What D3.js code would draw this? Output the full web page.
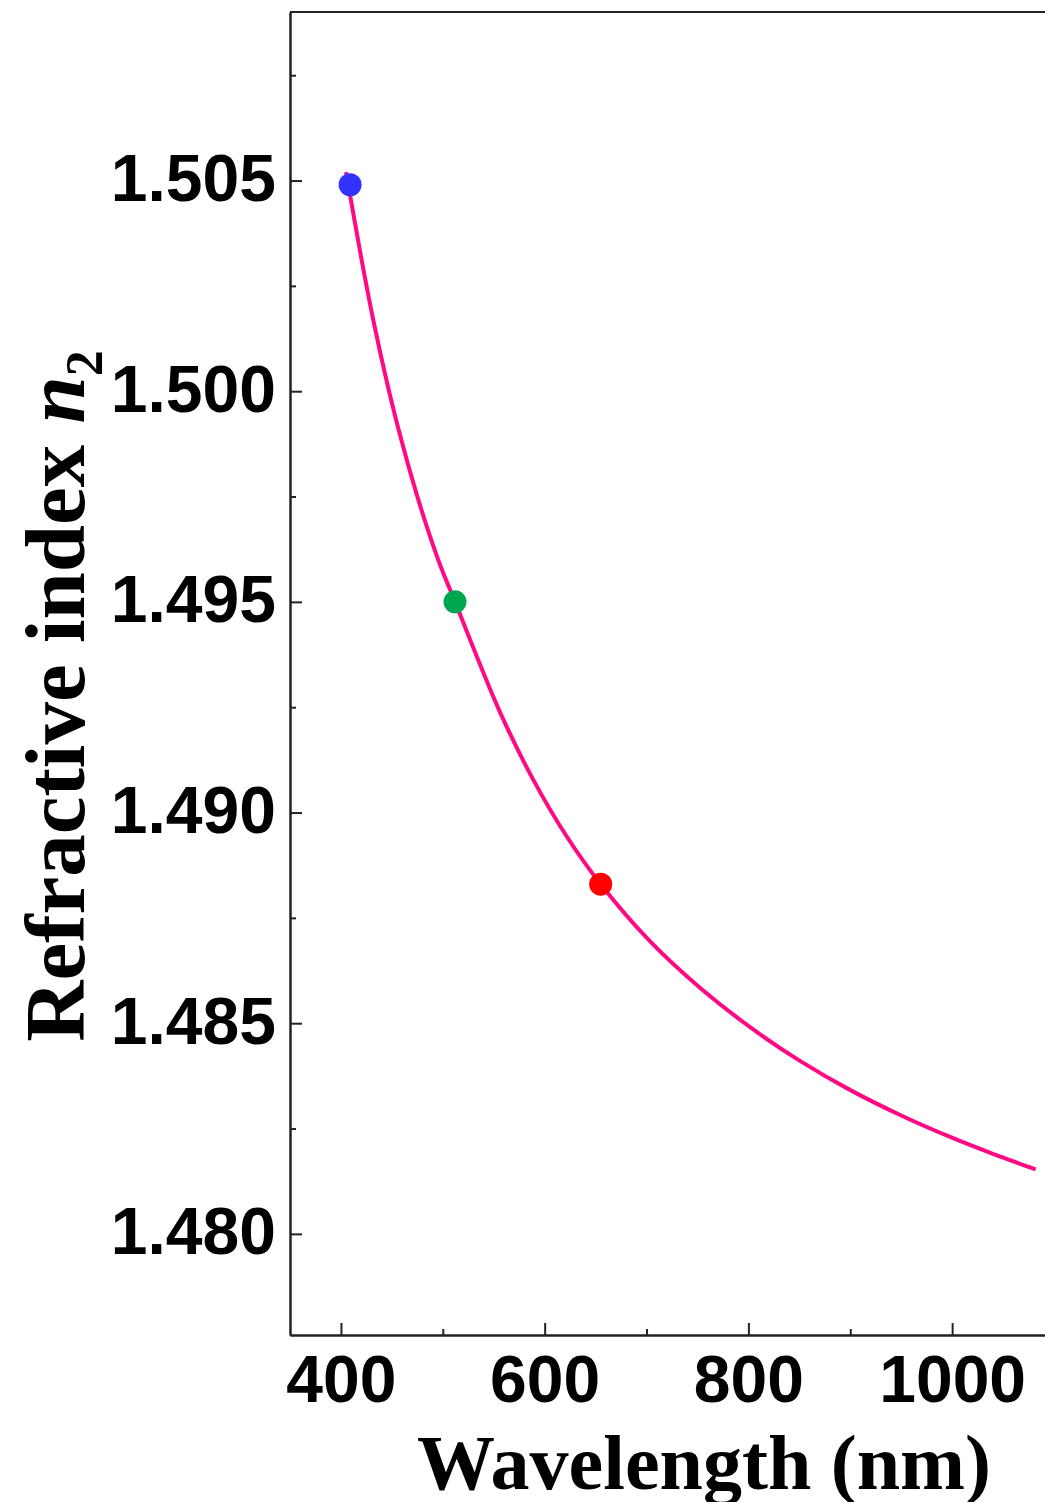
<!DOCTYPE html>
<html>
<head>
<meta charset="utf-8">
<script src="https://cdn.jsdelivr.net/npm/d3@7"></script>
<style>
  body { margin: 0; background: #fff; }
  .tick text { font-family: "Liberation Sans", Arial, sans-serif; font-weight: bold; font-size: 66px; fill: #000; }
  .axis path, .axis line { stroke: #222; stroke-width: 2; }
  .title { font-family: "Liberation Serif", "Times New Roman", serif; font-weight: bold; fill: #000; }
</style>
</head>
<body>
<div id="chart"></div>
<script>
// curve: wavelength (nm) and refractive index n2
var wavelength = [405, 420, 432, 445, 458, 474, 487, 497, 512, 556, 589, 622, 655, 704, 753, 802, 851, 901, 950, 998, 1040, 1082];
var index = [1.5052, 1.50316, 1.50166, 1.50023, 1.49896, 1.49758, 1.49659, 1.4959, 1.4950, 1.49239, 1.49077, 1.48942, 1.4883, 1.48693, 1.48583, 1.4849, 1.4841, 1.4834, 1.48281, 1.4823, 1.4819, 1.48153];

// the three marked laser lines
var dotWavelength = [409, 512, 655];
var dotIndex = [1.5049, 1.4950, 1.4883];
var dotColor = ["#3333ff", "#00a550", "#ff0000"];

var xTicks = [400, 600, 800, 1000];
var xMinor = [500, 700, 900];
var yTicks = [1.480, 1.485, 1.490, 1.495, 1.500, 1.505];
var yMinor = [1.4825, 1.4875, 1.4925, 1.4975, 1.5025, 1.5075];

var width = 1045, height = 1502;
var plotLeft = 290, plotRight = 1054, plotTop = 12, plotBottom = 1335;

var svg = d3.select("#chart").append("svg")
    .attr("width", width)
    .attr("height", height);

// set the ranges
var x = d3.scaleLinear().domain([350, 1100]).range([plotLeft, plotRight]);
var y = d3.scaleLinear().domain([1.4776, 1.509]).range([plotBottom, plotTop]);

// minor ticks first, inward
svg.append("g")
    .attr("class", "axis")
    .attr("transform", "translate(0," + plotBottom + ")")
    .call(d3.axisBottom(x).tickValues(xMinor).tickSize(-6).tickSizeOuter(0).tickFormat(""));
svg.append("g")
    .attr("class", "axis")
    .attr("transform", "translate(" + plotLeft + ",0)")
    .call(d3.axisLeft(y).tickValues(yMinor).tickSize(-6).tickSizeOuter(0).tickFormat(""));

// major ticks with labels
svg.append("g")
    .attr("class", "axis")
    .attr("transform", "translate(0," + plotBottom + ")")
    .call(d3.axisBottom(x).tickValues(xTicks).tickSize(-12).tickSizeOuter(0).tickPadding(20).tickFormat(d3.format("d")))
  .selectAll("text")
    .attr("dy", "0.71em");
svg.append("g")
    .attr("class", "axis")
    .attr("transform", "translate(" + plotLeft + ",0)")
    .call(d3.axisLeft(y).tickValues(yTicks).tickSize(-12).tickSizeOuter(0).tickPadding(14).tickFormat(d3.format(".3f")))
  .selectAll("text")
    .attr("dy", "0.3em");

// top frame line
svg.append("line")
    .attr("x1", plotLeft).attr("x2", plotRight)
    .attr("y1", plotTop).attr("y2", plotTop)
    .attr("stroke", "#222").attr("stroke-width", 2);

// the dispersion curve
var data = wavelength.map(function(d, i) { return {w: d, n: index[i]}; });
var line = d3.line()
    .x(function(d) { return x(d.w); })
    .y(function(d) { return y(d.n); })
    .curve(d3.curveCatmullRom.alpha(0.5));

svg.append("path")
    .datum(data)
    .attr("fill", "none")
    .attr("stroke", "#ff0a84")
    .attr("stroke-width", 4)
    .attr("d", line);

svg.selectAll(".dot")
    .data(dotWavelength)
  .enter().append("circle")
    .attr("class", "dot")
    .attr("cx", function(d) { return x(d); })
    .attr("cy", function(d, i) { return y(dotIndex[i]); })
    .attr("r", 11.5)
    .attr("fill", function(d, i) { return dotColor[i]; });

// axis titles
svg.append("text")
    .attr("class", "title")
    .attr("x", 704)
    .attr("y", 1489)
    .attr("text-anchor", "middle")
    .style("font-size", "78px")
    .text("Wavelength (nm)");

var yt = svg.append("text")
    .attr("class", "title")
    .attr("transform", "translate(84,696) rotate(-90)")
    .attr("text-anchor", "middle")
    .style("font-size", "85px");
yt.append("tspan").text("Refractive index ");
yt.append("tspan").style("font-style", "italic").text("n");
yt.append("tspan").attr("dy", 18).style("font-size", "52px").text("2");
</script>
</body>
</html>
